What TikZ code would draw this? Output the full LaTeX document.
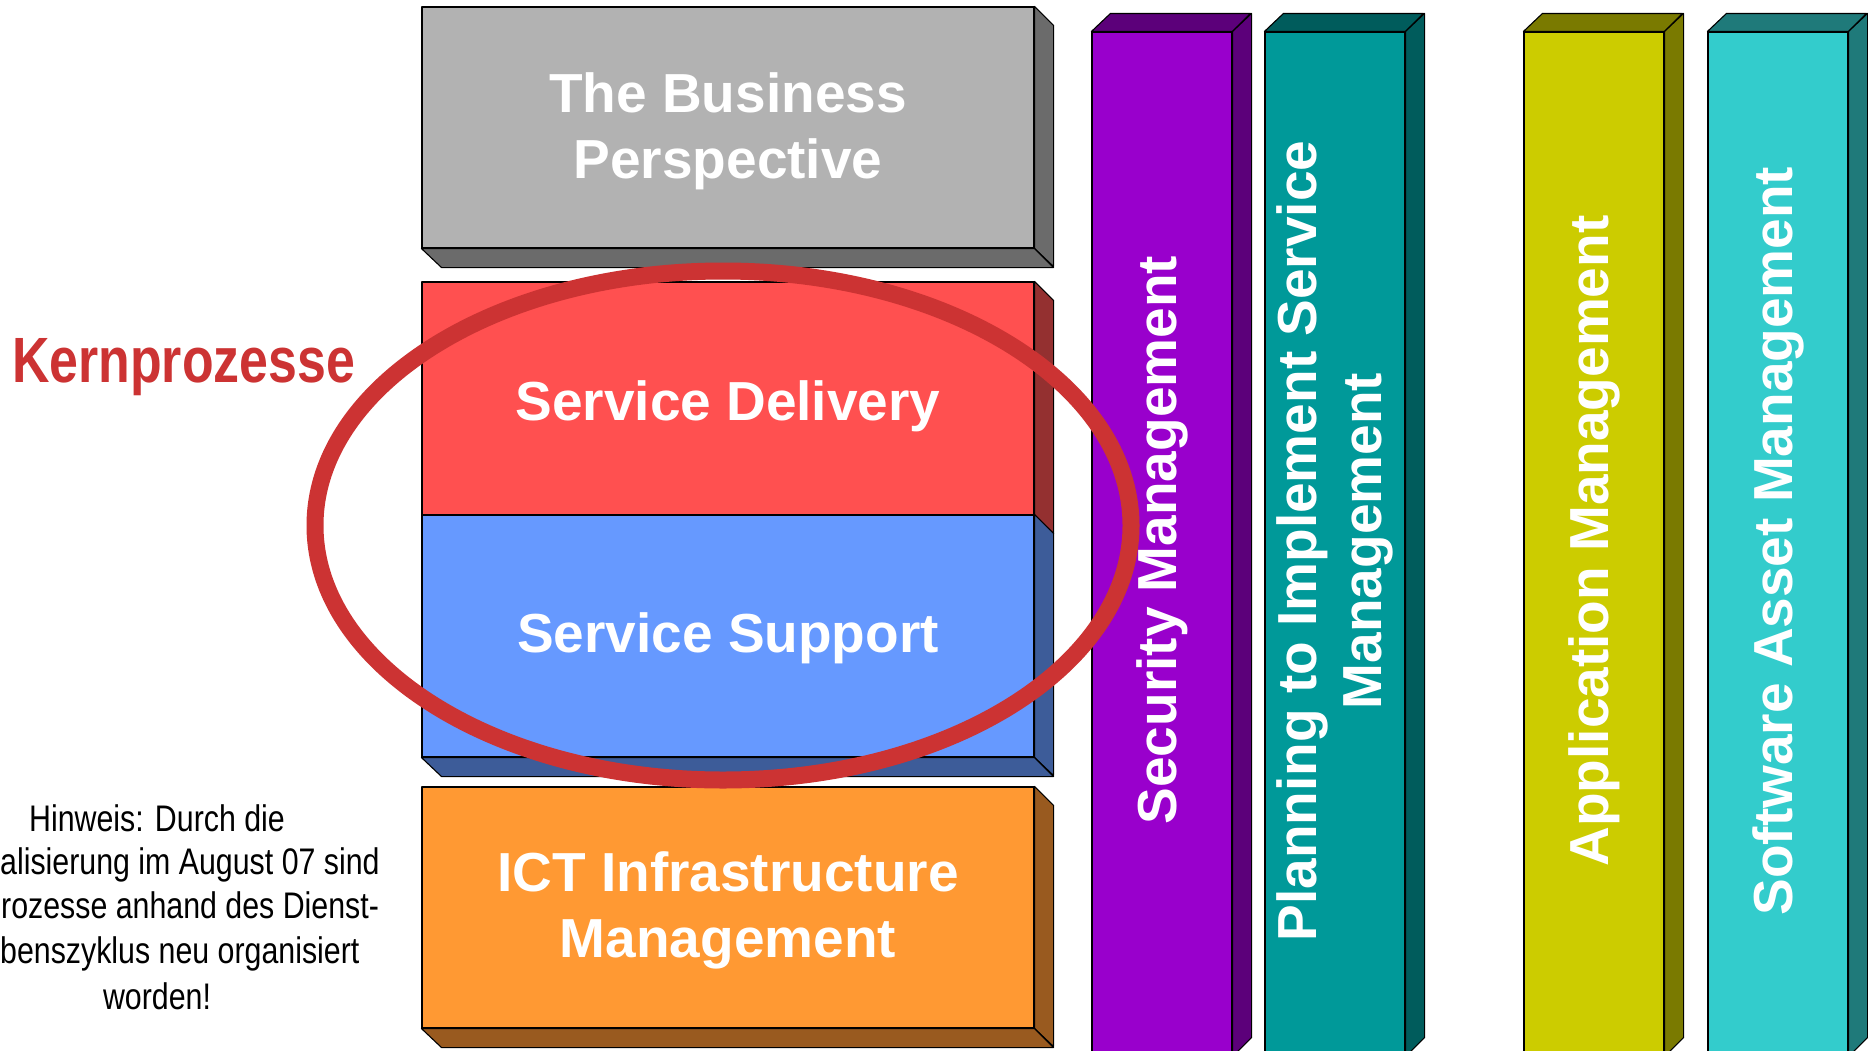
\documentclass[tikz,border=0pt]{standalone}
\usepackage{fontspec}
\setmainfont{Liberation Sans}
\newfontfamily\narrowfont[FakeStretch=0.82]{Liberation Sans}
\newfontfamily\kernfont[FakeStretch=0.81]{Liberation Sans}
\usetikzlibrary{shapes.geometric}
\definecolor{grayF}{HTML}{B2B2B2}
\definecolor{grayD}{HTML}{6B6B6B}
\definecolor{redF}{HTML}{FF5050}
\definecolor{redD}{HTML}{943030}
\definecolor{blueF}{HTML}{6699FF}
\definecolor{blueD}{HTML}{3D5C99}
\definecolor{orangeF}{HTML}{FF9933}
\definecolor{orangeD}{HTML}{995A1F}
\definecolor{purpF}{HTML}{9900CC}
\definecolor{purpD}{HTML}{5C007A}
\definecolor{tealF}{HTML}{009999}
\definecolor{tealD}{HTML}{005C5C}
\definecolor{yelF}{HTML}{CCCC00}
\definecolor{yelD}{HTML}{7A7A00}
\definecolor{cyanF}{HTML}{33CCCC}
\definecolor{cyanD}{HTML}{1F7A7A}
\definecolor{ringred}{HTML}{CC3333}
\begin{document}
\begin{tikzpicture}[x=1pt,y=-1pt,
  face/.style={draw=black, line width=1.1pt, line join=round},
  frontbox/.style={face, inner sep=0pt, minimum width=612pt},
  boxtext/.style={inner sep=0pt, text=white,
    font=\bfseries\fontsize{55}{66}\selectfont, align=center},
  barbox/.style={face, inner sep=0pt, minimum width=140pt, minimum height=1024pt},
  bartext/.style={rotate=90, text=white, inner sep=0pt,
    font=\bfseries\fontsize{55}{65}\selectfont, align=center},
  hw/.style={inner sep=0pt, font=\narrowfont\fontsize{37}{44.5}\selectfont}]
\useasboundingbox (0,0) rectangle (1868,1050);
\fill[white] (0,0) rectangle (1868,1050);
\begin{scope}
\clip (0,0) rectangle (1868,1050);
% horizontal boxes
\node[frontbox, fill=grayF, minimum height=241pt] (biz) at (728,127.5) {};
\draw[face, fill=grayD] (biz.north east) -- ++(19,19) -- ++(0,241) -- (biz.south east) -- cycle;
\draw[face, fill=grayD] (biz.south west) -- (biz.south east) -- ++(19,19) -- ++(-612,0) -- cycle;
\node[boxtext] (biztext) at (728,131) {The Business\\Perspective};

\node[frontbox, fill=redF, minimum height=233pt] (sd) at (728,398.5) {};
\draw[face, fill=redD] (sd.north east) -- ++(19,19) -- ++(0,233) -- (sd.south east) -- cycle;
\node[boxtext] (sdtext) at (728,406.5) {Service Delivery};

\node[frontbox, fill=blueF, minimum height=242pt] (ss) at (728,636) {};
\draw[face, fill=blueD] (ss.north east) -- ++(19,19) -- ++(0,242) -- (ss.south east) -- cycle;
\draw[face, fill=blueD] (ss.south west) -- (ss.south east) -- ++(19,19) -- ++(-612,0) -- cycle;
\node[boxtext] (sstext) at (728,638.5) {Service Support};

\node[frontbox, fill=orangeF, minimum height=241pt] (ict) at (728,907.5) {};
\draw[face, fill=orangeD] (ict.north east) -- ++(19,19) -- ++(0,241) -- (ict.south east) -- cycle;
\draw[face, fill=orangeD] (ict.south west) -- (ict.south east) -- ++(19,19) -- ++(-612,0) -- cycle;
\node[boxtext] (icttext) at (728,910) {ICT Infrastructure\\Management};

% vertical bars
\node[barbox, fill=purpF] (sec) at (1162,544) {};
\node[barbox, fill=tealF] (plan) at (1335,544) {};
\node[barbox, fill=yelF] (app) at (1594,544) {};
\node[barbox, fill=cyanF] (sam) at (1778,544) {};
\foreach \b/\c in {sec/purpD, plan/tealD, app/yelD, sam/cyanD}{
  \draw[face, fill=\c] (\b.north west) -- ++(19,-18) -- ++(140,0) -- (\b.north east) -- cycle;
  \draw[face, fill=\c] (\b.north east) -- ++(19,-18) -- ++(0,1024) -- (\b.south east) -- cycle;
}

% ring
\node[ellipse, draw=ringred, line width=17pt, minimum width=816pt, minimum height=509pt, inner sep=0pt] (ring) at (723,525.5) {};

% bar texts
\node[bartext] (sectext) at (1162,540) {Security Management};
\node[bartext] (plantext) at (1335,541) {Planning to Implement Service\\Management};
\node[bartext] (apptext) at (1594,541) {Application Management};
\node[bartext] (samtext) at (1778,541) {Software Asset Management};

% left texts
\node[anchor=base west, inner sep=0pt, text=ringred, font=\kernfont\bfseries\fontsize{64}{70}\selectfont] (kern) at (12,382) {Kernprozesse};
\node[hw, anchor=base] (h1) at (157,831) {Hinweis: Durch die};
\node[hw, anchor=base west] (h2) at (0,874) {alisierung im August 07 sind};
\node[hw, anchor=base west] (h3) at (1,918) {rozesse anhand des Dienst-};
\node[hw, anchor=base west] (h4) at (0,963) {benszyklus neu organisiert};
\node[hw, anchor=base] (h5) at (157,1009) {worden!};
\end{scope}
\end{tikzpicture}
\end{document}
